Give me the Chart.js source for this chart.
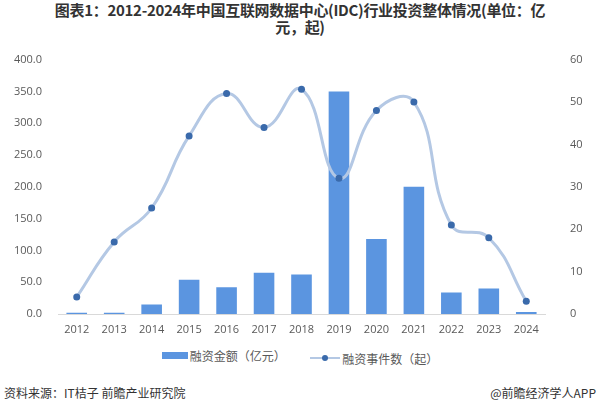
<!DOCTYPE html>
<html>
<head>
<meta charset="utf-8">
<script src="https://cdn.jsdelivr.net/npm/chart.js@4/dist/chart.umd.min.js"></script>
<style>
  html, body { margin: 0; padding: 0; background: #fff; }
  body { width: 600px; height: 400px; position: relative; overflow: hidden;
         font-family: "Noto Sans CJK SC", "Noto Sans", sans-serif; }
  #title { position: absolute; top: 1px; left: 0; width: 600px; text-align: center;
           font-size: 15px; font-weight: bold; color: #333; line-height: 17px; letter-spacing: -0.3px; }
  #wrap { position: absolute; top: 36px; left: 0; width: 600px; height: 309px; }
  #legend { position: absolute; top: 345px; left: 0; width: 600px; text-align: center;
            font-size: 12px; color: #595959; }
  .item { display: inline-flex; align-items: center; margin: 0 11px; }
  .bar-sw { display: inline-block; width: 26px; height: 7px; background: #5b95e0; margin-right: 2px; }
  .line-sw { display: inline-block; width: 30px; height: 2px; background: #b4c8e4; margin-right: 2px; position: relative; }
  .line-sw::after { content: ""; position: absolute; left: 12px; top: -2px; width: 6px; height: 6px;
                    border-radius: 50%; background: #3a6aab; }
  #source { position: absolute; top: 384px; left: 4px; font-size: 12px; color: #333; }
  #brand { position: absolute; top: 384px; right: 4px; font-size: 12px; color: #333; }
</style>
</head>
<body>
<div id="title">图表1：2012-2024年中国互联网数据中心(IDC)行业投资整体情况(单位：亿<br>元，起)</div>
<div id="wrap"><canvas id="investChart"></canvas></div>
<div id="legend">
  <span class="item"><span class="bar-sw"></span>融资金额（亿元）</span>
  <span class="item"><span class="line-sw"></span>融资事件数（起）</span>
</div>
<div id="source">资料来源：IT桔子 前瞻产业研究院</div>
<div id="brand">@前瞻经济学人APP</div>
<script>
const years = ['2012', '2013', '2014', '2015', '2016', '2017', '2018', '2019', '2020', '2021', '2022', '2023', '2024'];
const amounts = [2, 2, 15, 54, 42, 65, 62, 350, 118, 200, 34, 40, 3];
const eventCounts = [4, 17, 25, 42, 52, 44, 53, 32, 48, 50, 21, 18, 3];
const leftTicks = [0, 50, 100, 150, 200, 250, 300, 350, 400];
const rightTicks = [0, 10, 20, 30, 40, 50, 60];

const tickFont = { family: '"Open Sans", "Noto Sans", sans-serif', size: 11 };

const ctx = document.getElementById('investChart').getContext('2d');
new Chart(ctx, {
    data: {
        labels: years,
        datasets: [
            {
                type: 'line',
                label: '融资事件数（起）',
                data: eventCounts,
                yAxisID: 'yRight',
                borderColor: '#b4c8e4',
                borderWidth: 3,
                tension: 0.45,
                pointRadius: 3.5,
                pointBackgroundColor: '#3a6aab',
                pointBorderColor: '#3a6aab',
                pointBorderWidth: 0,
                order: 0
            },
            {
                type: 'bar',
                label: '融资金额（亿元）',
                data: amounts,
                yAxisID: 'yLeft',
                backgroundColor: '#5b95e0',
                categoryPercentage: 1,
                barPercentage: 0.55,
                order: 1
            }
        ]
    },
    options: {
        responsive: true,
        maintainAspectRatio: false,
        animation: false,
        layout: { padding: { top: 5, left: 0, right: 0, bottom: 0 } },
        plugins: {
            legend: { display: false },
            tooltip: { enabled: false }
        },
        scales: {
            x: {
                grid: { display: false },
                border: { display: true, color: '#d9d9d9', width: 1 },
                ticks: { color: '#595959', font: tickFont, padding: 1, maxRotation: 0 },
                afterFit: function(scale) { scale.height = 31; }
            },
            yLeft: {
                position: 'left',
                min: 0,
                max: 400,
                grid: { display: false },
                border: { display: false },
                afterBuildTicks: function(scale) { scale.ticks = leftTicks.map(v => ({ value: v })); },
                ticks: {
                    color: '#595959',
                    font: tickFont,
                    padding: 8,
                    callback: v => v.toFixed(1)
                },
                afterFit: function(scale) { scale.width = 58; }
            },
            yRight: {
                position: 'right',
                min: 0,
                max: 60,
                grid: { display: false },
                border: { display: false },
                afterBuildTicks: function(scale) { scale.ticks = rightTicks.map(v => ({ value: v })); },
                ticks: { color: '#595959', font: tickFont, padding: 17 },
                afterFit: function(scale) { scale.width = 55; }
            }
        }
    }
});
</script>
</body>
</html>
